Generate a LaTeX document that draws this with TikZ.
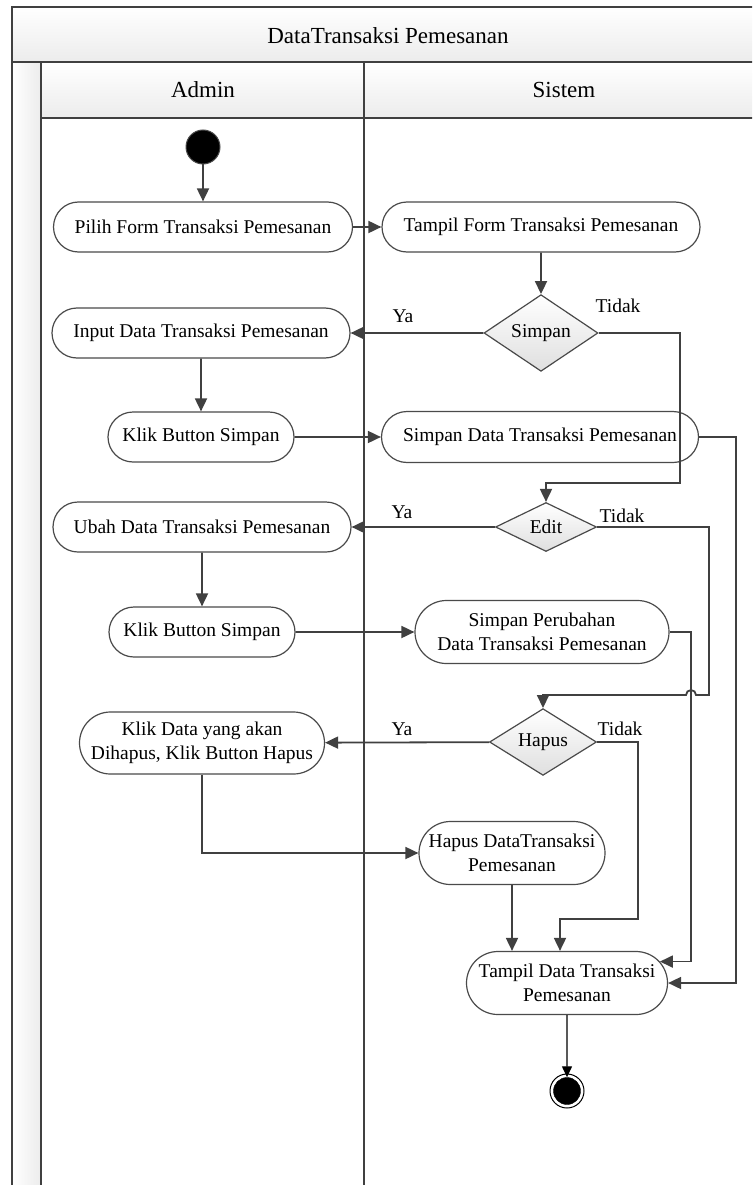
\documentclass[tikz,border=0pt]{standalone}
\usepackage{fontspec}
\setmainfont{Liberation Serif}
\usetikzlibrary{shapes.misc,shapes.geometric,arrows.meta}
\definecolor{ln}{HTML}{404040}
\definecolor{bd}{HTML}{4A4A4A}
\newcommand{\nf}{\fontsize{19.5}{24.5}\selectfont}
\newcommand{\tf}{\fontsize{23}{28}\selectfont}
\begin{document}
\begin{tikzpicture}[x=1pt,y=-1pt,
  act/.style={rounded rectangle, draw=bd, line width=1.2pt, fill=white, font=\nf, align=center, inner sep=2pt},
  dec/.style={diamond, draw=bd, line width=1.2pt, top color=white, bottom color=gray!25, font=\nf, inner sep=0pt},
  arr/.style={draw=ln, line width=1.8pt, -{Triangle[length=13pt,width=12pt]}},
  frm/.style={draw=ln, line width=1.8pt},
  lbl/.style={font=\nf, inner sep=0pt}]
\useasboundingbox (0,0) rectangle (752,1185);
\begin{scope}
\clip (0,0) rectangle (752,1185);
\shade[top color=white, bottom color=gray!15] (12,7) rectangle (764,62);
\shade[top color=white, bottom color=gray!15] (41,62) rectangle (764,118);
\shade[left color=white, right color=gray!15] (12,62) rectangle (41,1200);
\draw[frm] (12,1200) -- (12,7) -- (764,7) -- (764,1200);
\draw[frm] (12,62) -- (764,62);
\draw[frm] (41,118) -- (764,118);
\draw[frm] (41,62) -- (41,1200);
\draw[frm] (364,62) -- (364,1200);
\end{scope}
\node[font=\tf] (title) at (388,36) {DataTransaksi Pemesanan};
\node[font=\tf] (admin) at (203,90) {Admin};
\node[font=\tf] (sistem) at (564,90) {Sistem};

% nodes
\node[circle, fill=black, draw=bd, line width=1pt, minimum size=34pt, inner sep=0pt] (start) at (203,147) {};
\node[act, minimum width=303pt, minimum height=50pt] (pilih) at (203,227) {Pilih Form Transaksi Pemesanan};
\node[act, minimum width=322pt, minimum height=50pt] (tform) at (541,227) {Tampil Form Transaksi Pemesanan};
\node[dec, minimum width=114pt, minimum height=62pt] (simpan) at (541,333) {Simpan};
\node[act, minimum width=302pt, minimum height=50pt] (input) at (201,333) {Input Data Transaksi Pemesanan};
\node[act, minimum width=190pt, minimum height=50pt] (klik1) at (201,437) {Klik Button Simpan};
\node[act, minimum width=321pt, minimum height=51pt] (sdata) at (540,437) {Simpan Data Transaksi Pemesanan};
\node[dec, minimum width=101pt, minimum height=49pt] (edit) at (546,527) {Edit};
\node[act, minimum width=302pt, minimum height=50pt] (ubah) at (202,527) {Ubah Data Transaksi Pemesanan};
\node[act, minimum width=190pt, minimum height=50pt] (klik2) at (202,632) {Klik Button Simpan};
\node[act, minimum width=258pt, minimum height=63pt] (sperub) at (542,632) {Simpan Perubahan\\Data Transaksi Pemesanan};
\node[dec, minimum width=107pt, minimum height=49pt] (hapus) at (543,742) {Hapus};
\node[act, minimum width=249pt, minimum height=62pt] (klikdata) at (202,743) {Klik Data yang akan\\Dihapus, Klik Button Hapus};
\node[act, minimum width=190pt, minimum height=63pt] (hdata) at (512,853) {Hapus DataTransaksi\\Pemesanan};
\node[act, minimum width=205pt, minimum height=63pt] (tdata) at (567,983) {Tampil Data Transaksi\\Pemesanan};
\node[circle, fill=black, draw=black, minimum size=27pt, inner sep=0pt] (end) at (567,1091) {};
\draw[black, line width=1pt] (end.center) circle (17pt);

% labels
\node[lbl] (ya1) at (403,316) {Ya};
\node[lbl] (td1) at (618,306) {Tidak};
\node[lbl] (ya2) at (402,512) {Ya};
\node[lbl] (td2) at (622,516) {Tidak};
\node[lbl] (ya3) at (402,729) {Ya};
\node[lbl] (td3) at (620,729) {Tidak};

% helper coordinates
\coordinate (c1) at (680,483);
\coordinate (c2) at (709,695);
\coordinate (c3) at (736,983);
\coordinate (jx) at (691,0);
\coordinate (c6) at (638,919);

% connectors
\draw[arr] (start) -- (pilih);
\draw[arr] (pilih) -- (tform);
\draw[arr] (tform) -- (simpan);
\draw[arr] (simpan) -- (input);
\draw[arr] (simpan.east) -| (c1) -| (edit.north);
\draw[arr] (input) -- (klik1);
\draw[arr] (klik1) -- (sdata);
\draw[arr] (sdata.east) -| (c3) -- (tdata.east);
\draw[arr] (edit) -- (ubah);
\draw[arr] (edit.east) -| (c2) -- (696,695) arc (0:-180:5) -| (hapus.north);
\draw[arr] (ubah) -- (klik2);
\draw[arr] (klik2) -- (sperub);
\draw[arr] (sperub.east) -| (tdata.13 -| jx) -- (tdata.13);
\draw[arr] (hapus) -- (klikdata);
\draw[arr] (hapus.east) -| (c6) -| ([xshift=-7pt]tdata.north);
\draw[arr] (klikdata.south) |- (hdata.west);
\draw[arr] (hdata.south) -- (hdata.south |- tdata.north);
\draw[black, line width=1.3pt, -{Triangle[length=11pt,width=10pt]}] (tdata) -- (end);
\end{tikzpicture}
\end{document}
